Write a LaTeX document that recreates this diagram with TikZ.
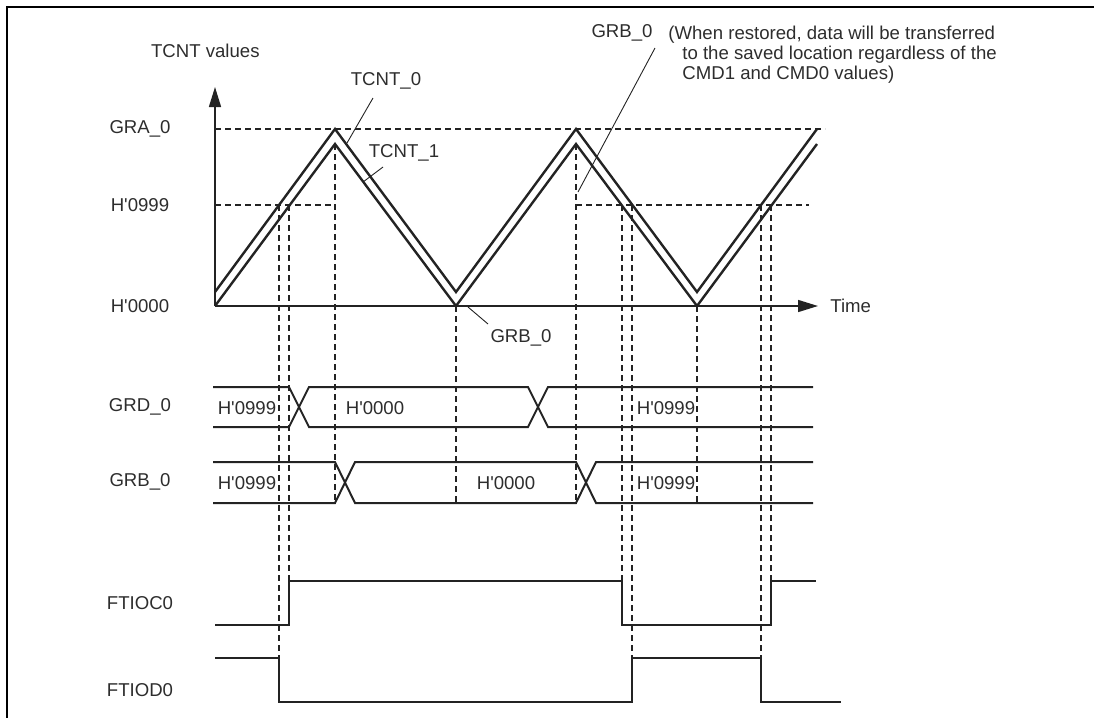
\documentclass[tikz,border=0pt]{standalone}
\usepackage{fontspec}
\setmainfont{Liberation Sans}
\usetikzlibrary{arrows.meta,positioning}
\definecolor{ink}{RGB}{35,35,35}
\definecolor{inktext}{RGB}{45,45,45}
\newcommand{\hx}[1]{H\textquotesingle#1}

\begin{document}
\begin{tikzpicture}[x=0.5pt, y=-0.5pt,
    lbl/.style={font=\fontsize{9.3}{9.8}\selectfont, text=inktext, inner sep=0pt},
    axis/.style={line width=0.75pt, draw=ink, -{Triangle[length=10pt, width=6pt]}},
    cnt/.style={line width=1.2pt, draw=ink, line join=miter},
    sig/.style={line width=1pt, draw=ink, line join=miter},
    guide/.style={line width=0.55pt, draw=ink, dash pattern=on 3pt off 2pt},
    lead/.style={line width=0.45pt, draw=ink}
]
    \useasboundingbox (0,0) rectangle (1094,718);
    % frame
    \draw[line width=1pt] (7,718) -- (7,7) -- (1094,7);

    % axes
    \coordinate (org)  at (215,306);
    \coordinate (ytop) at (215,87);
    \coordinate (xend) at (818,306);
    \draw[axis] (org) -- (ytop);
    \draw[axis] (org) -- (xend);
    \node[lbl, anchor=east] (yname) at (260,51) {TCNT values};
    \node[lbl, right=6pt of xend] (time) {Time};

    % level labels
    \node[lbl] (gra)   at (140,129) {GRA\_0};
    \node[lbl] (h999)  at (140,205) {\hx{0999}};
    \node[lbl] (h000)  at (140,306) {\hx{0000}};
    \node[lbl] (grd)   at (140,407) {GRD\_0};
    \node[lbl] (grb)   at (140,482) {GRB\_0};
    \node[lbl] (ftioc) at (140,603) {FTIOC0};
    \node[lbl] (ftiod) at (140,690) {FTIOD0};

    % guide lines
    \draw[guide] (215,129) -- (825,129);
    \draw[guide] (215,205) -- (335,205);
    \draw[guide] (576,205) -- (809,205);
    \draw[guide] (279,205) -- (279,658);
    \draw[guide] (289,205) -- (289,581);
    \draw[guide] (335,144) -- (335,503);
    \draw[guide] (456,306) -- (456,503);
    \draw[guide] (576,144) -- (576,503);
    \draw[guide] (622,205) -- (622,581);
    \draw[guide] (632,205) -- (632,658);
    \draw[guide] (697,306) -- (697,503);
    \draw[guide] (761,205) -- (761,658);
    \draw[guide] (771,205) -- (771,581);

    % counters
    \draw[cnt] (215,292) -- (335,129) -- (456,292) -- (576,129) -- (697,292) -- (817,129);
    \draw[cnt] (215,306) -- (335,144) -- (456,306) -- (576,144) -- (697,306) -- (817,144);

    \node[lbl] (tcnt0) at (386,81)  {TCNT\_0};
    \node[lbl] (tcnt1) at (404,153) {TCNT\_1};
    \node[lbl] (grblo) at (521,338) {GRB\_0};
    \node[lbl] (grbhi) at (622,33)  {GRB\_0};
    \node[lbl, anchor=north west, align=left] (note) at (668,26)
        {(When restored, data will be transferred\\
         \hspace*{7pt}to the saved location regardless of the\\
         \hspace*{7pt}CMD1 and CMD0 values)};

    \coordinate (t0a) at (373,98);  \coordinate (t0b) at (347,143);
    \coordinate (t1a) at (383,167); \coordinate (t1b) at (363,182);
    \coordinate (gla) at (488,324); \coordinate (glb) at (468,307);
    \coordinate (gha) at (655,48);  \coordinate (ghb) at (578,192);
    \draw[lead] (t0a) -- (t0b);
    \draw[lead] (t1a) -- (t1b);
    \draw[lead] (gla) -- (glb);
    \draw[lead] (gha) -- (ghb);

    % GRD_0 bus
    \draw[sig] (213,387) -- (289,387) -- (309,427) -- (528,427) -- (548,387) -- (813,387);
    \draw[sig] (213,427) -- (289,427) -- (309,387) -- (528,387) -- (548,427) -- (813,427);
    \node[lbl] (grdv1) at (247,408) {\hx{0999}};
    \node[lbl] (grdv2) at (375,408) {\hx{0000}};
    \node[lbl] (grdv3) at (666,408) {\hx{0999}};

    % GRB_0 bus
    \draw[sig] (213,462) -- (335,462) -- (355,503) -- (576,503) -- (596,462) -- (813,462);
    \draw[sig] (213,503) -- (335,503) -- (355,462) -- (576,462) -- (596,503) -- (813,503);
    \node[lbl] (grbv1) at (247,483) {\hx{0999}};
    \node[lbl] (grbv2) at (506,483) {\hx{0000}};
    \node[lbl] (grbv3) at (666,483) {\hx{0999}};

    % outputs
    \draw[sig] (215,625) -- (289,625) -- (289,581) -- (622,581) -- (622,625) -- (771,625) -- (771,581) -- (816,581);
    \draw[sig] (215,658) -- (279,658) -- (279,702) -- (632,702) -- (632,658) -- (761,658) -- (761,702) -- (841,702);
\end{tikzpicture}
\end{document}
